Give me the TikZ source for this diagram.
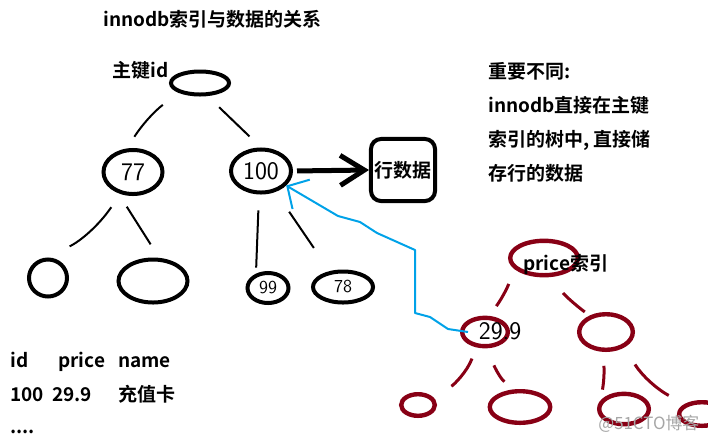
\documentclass[tikz,border=0pt]{standalone}
\usepackage{fontspec}
\newfontfamily\cjk{Noto Sans CJK SC}[BoldFont={Noto Sans CJK SC Bold}]
\usetikzlibrary{shapes.geometric,arrows.meta}
\definecolor{pdred}{RGB}{136,0,21}
\definecolor{pblue}{RGB}{0,162,232}

\begin{document}
\begin{tikzpicture}[x=0.025cm,y=-0.025cm,
  kn/.style={ellipse,draw=black,line width=1mm,inner sep=0pt,font=\sffamily\fontsize{18}{18}\selectfont},
  pn/.style={ellipse,draw=pdred,line width=1.1mm,inner sep=0pt},
  ke/.style={draw=black,line width=0.5mm,shorten <=4mm,shorten >=4mm},
  pe/.style={draw=pdred,line width=0.75mm,shorten <=4mm,shorten >=3mm},
  tx/.style={inner sep=0pt,font=\cjk\bfseries\fontsize{13.5}{13.5}\selectfont},
  hd/.style={inner sep=0pt,font=\sffamily\fontsize{18}{18}\selectfont},
  lk/.style={draw=pblue,line width=0.5mm,line join=round,-{Straight Barb[length=4mm,width=8.5mm]}}]
  \useasboundingbox (0,0) rectangle (708,442);
  % texts
  \node[tx,anchor=base west] (title) at (103,26) {innodb索引与数据的关系};
  \node[tx,anchor=base west] (pklabel) at (112,77) {主键id};
  \node[tx,anchor=north west,align=left,font=\cjk\bfseries\fontsize{13.5}{24.2}\selectfont] (note) at (488,62)
    {重要不同:\\innodb直接在主键\\索引的树中, 直接储\\存行的数据};
  % id tree
  \node[kn,minimum width=14.5mm,minimum height=5.75mm] (root) at (200,83) {};
  \node[kn,minimum width=14.75mm,minimum height=11mm] (n77) at (133,172) {77};
  \node[kn,minimum width=15mm,minimum height=10.75mm] (n100) at (261,171) {100};
  \node[kn,minimum width=9.5mm,minimum height=9.25mm] (k1) at (48,278) {};
  \node[kn,minimum width=17.25mm,minimum height=10.75mm] (k2) at (153,281) {};
  \node[kn,minimum width=10.25mm,minimum height=7.5mm,font=\sffamily\fontsize{13}{13}\selectfont] (n99) at (268,288) {99};
  \node[kn,minimum width=15mm,minimum height=7.75mm,font=\sffamily\fontsize{13}{13}\selectfont] (n78) at (343,287) {78};
  \draw[ke,shorten <=5mm,shorten >=3.5mm] (root.205) to[bend right=10] (n77.105);
  \draw[ke] (root.300) -- (n100.90);
  \draw[ke,shorten >=6.5mm] (n77.240) to[bend left=15] (k1.95);
  \draw[ke] (n77.235) -- (k2.75);
  \draw[ke,shorten >=1.5mm] (n100.265) -- (n99.130);
  \draw[ke,shorten <=6mm,shorten >=7mm] (n100.305) -- (n78.130);
  % row data
  \node[tx,draw,line width=1mm,rounded corners=2.5mm,minimum width=16mm,minimum height=15.5mm] (row) at (403,170) {行数据};
  \draw[line width=1.25mm,shorten <=1mm,-{Straight Barb[length=6mm,width=7.5mm]}] (n100.east) -- (row.west);
  % price tree
  \node[pn,minimum width=16.9mm,minimum height=8.6mm] (proot) at (544,258) {};
  \node[tx,anchor=base west] (plabel) at (523,270) {price索引};
  \node[pn,minimum width=11.4mm,minimum height=7.1mm] (p299) at (485,332) {};
  \node[hd] (v299) at (500,331) {29.9};
  \node[pn,minimum width=13.4mm,minimum height=8.9mm] (pR) at (606,332) {};
  \node[pn,minimum width=8.4mm,minimum height=5.4mm] (q1) at (418,405) {};
  \node[pn,minimum width=15.1mm,minimum height=7.9mm] (q2) at (520,407) {};
  \node[pn,minimum width=12.4mm,minimum height=7.6mm] (q3) at (624,409) {};
  \node[pn,minimum width=11.4mm,minimum height=5.9mm] (q4) at (702,414) {};
  \draw[pe] (proot.200) to[bend left=8] (p299.75);
  \draw[pe,shorten <=5mm,shorten >=1.5mm] (proot.290) to[bend right=8] (pR.135);
  \draw[pe,shorten <=3mm,shorten >=6mm] (p299.240) to[bend left=25] (q1.45);
  \draw[pe,shorten <=4.5mm,shorten >=3mm] (p299.300) to[bend right=25] (q2.110);
  \draw[pe,shorten <=3.5mm,shorten >=2.75mm] (pR.260) to[bend left=8] (q3.160);
  \draw[pe,shorten <=5mm,shorten >=4.5mm] (pR.320) to[bend right=15] (q4.150);
  % link from price index to primary key
  \draw[lk] ([xshift=2mm]p299.west) -- (448,329) -- (430,317) -- (415,313) -- (415,250)
    -- (377,233) -- (360,222) -- (338,216) -- (n100.-30);
  % table
  \node[tx,anchor=base west] (hid) at (10,367) {id};
  \node[tx,anchor=base west] (hprice) at (58,367) {price};
  \node[tx,anchor=base west] (hname) at (118,367) {name};
  \node[tx,anchor=base west] (vid) at (10,401) {100};
  \node[tx,anchor=base west] (vprice) at (52,401) {29.9};
  \node[tx,anchor=base west] (vname) at (118,401) {充值卡};
  \node[tx,anchor=base west] (vmore) at (10,433) {....};
  \node[inner sep=0pt,anchor=base west,font=\cjk\fontsize{12}{12}\selectfont,text=black!35] (wm) at (598,429) {@51CTO博客};
\end{tikzpicture}
\end{document}
